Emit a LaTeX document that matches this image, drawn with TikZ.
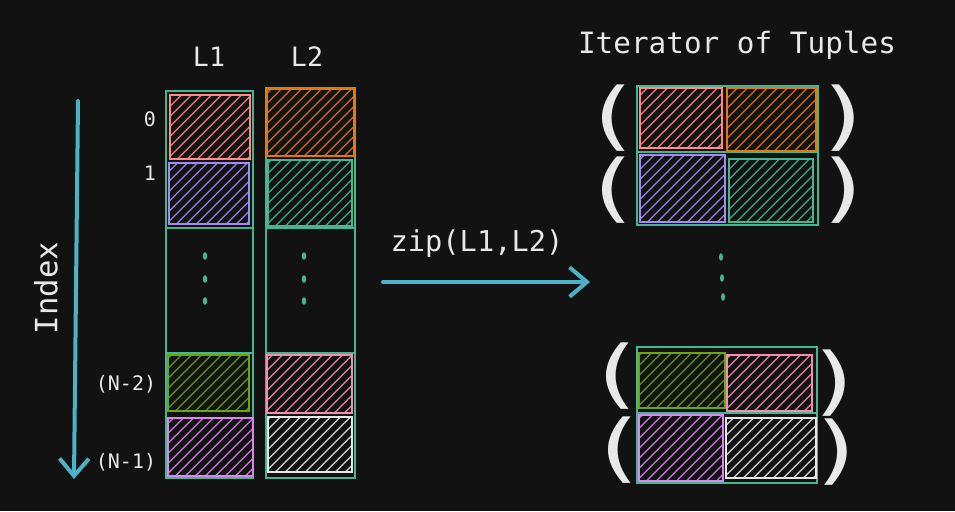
\documentclass[tikz,border=0pt]{standalone}
\usepackage{fontspec}
\setmainfont{DejaVu Sans Mono}
\usetikzlibrary{fit,arrows.meta,calc}
\definecolor{bg}{HTML}{121212}
\definecolor{tealc}{HTML}{45B78F}
\definecolor{txt}{HTML}{E8E8E8}
\definecolor{arrowc}{HTML}{4DB2C8}
\definecolor{salmon}{HTML}{FF8A8A}
\definecolor{lav}{HTML}{A48BF2}
\definecolor{orng}{HTML}{E07A10}
\definecolor{olive}{HTML}{6AA514}
\definecolor{pinkc}{HTML}{F58EB3}
\definecolor{viol}{HTML}{DC85F0}
\definecolor{whitec}{HTML}{E8E8E8}
\tikzset{
  cell/.style={draw=#1, line width=1.9pt, inner sep=0pt,
    path picture={
      \foreach \k in {0,...,19}{
        \draw[#1!85!black, line width=1pt]
          ($(path picture bounding box.south west)+(\k*7.5pt-62pt,0pt)$) -- ++(85pt,85pt);
      }
    }},
  frame/.style={draw=tealc, line width=1.9pt, inner sep=0pt},
  lbl/.style={text=txt, inner sep=0pt},
  paren/.style={text=txt, inner sep=0pt, font=\fontsize{56}{56}\selectfont, xscale=1.35},
  bigarrow/.style={draw=arrowc, line width=3pt, line cap=round,
    -{Straight Barb[length=13pt,width=22pt,line width=3pt]}},
  dot/.style={fill=tealc}
}
\begin{document}
\begin{tikzpicture}[x=0.75pt,y=-0.75pt]
\fill[bg] (0,0) rectangle (955,511);
\useasboundingbox (0,0) rectangle (955,511);

% ---------- left columns ----------
\node[frame, fit={(166,91)(253,478)}] (f1) {};
\node[frame, fit={(166,228)(253,353)}] (m1) {};
\node[frame, fit={(266,88)(355,478)}] (f2) {};
\node[frame, fit={(266,228)(355,353)}] (m2) {};

\node[cell=salmon, fit={(170,95)(250,159)}] (a0) {};
\node[cell=lav,    fit={(169,163)(249,224)}] (a1) {};
\node[cell=olive,  fit={(168,355)(249,411)}] (a2) {};
\node[cell=viol,   fit={(168,418)(253,476)}] (a3) {};

\node[cell=orng,   fit={(267,89)(354,156)}] (b0) {};
\node[cell=tealc,  fit={(268,160)(352,226)}] (b1) {};
\node[cell=pinkc,  fit={(267,355)(352,413)}] (b2) {};
\node[cell=whitec, fit={(268,417)(352,472)}] (b3) {};

\fill[dot] (205,256) ellipse [x radius=2.2, y radius=3.8];
\fill[dot] (205,279) ellipse [x radius=2.2, y radius=3.8];
\fill[dot] (205,301) ellipse [x radius=2.2, y radius=3.8];
\fill[dot] (304,256) ellipse [x radius=2.2, y radius=3.8];
\fill[dot] (304,279) ellipse [x radius=2.2, y radius=3.8];
\fill[dot] (304,301) ellipse [x radius=2.2, y radius=3.8];

\node[lbl, font=\fontsize{20}{20}\selectfont] (tL1) at (209,57) {L1};
\node[lbl, font=\fontsize{20}{20}\selectfont] (tL2) at (307,57) {L2};
\node[lbl, font=\fontsize{15}{15}\selectfont] (i0) at (150,119) {0};
\node[lbl, font=\fontsize{15}{15}\selectfont] (i1) at (150,173) {1};
\node[lbl, font=\fontsize{15}{15}\selectfont] (i2) at (126,384) {(N-2)};
\node[lbl, font=\fontsize{15}{15}\selectfont] (i3) at (126,462) {(N-1)};

% index arrow
\coordinate (ixs) at (78,101);
\coordinate (ixe) at (74,479);
\draw[bigarrow] (ixs) -- (ixe);
\node[lbl, rotate=90, font=\fontsize{23}{23}\selectfont] (idx) at (46,288) {Index};

% zip arrow
\coordinate (zs) at (383,282);
\coordinate (ze) at (590,282);
\draw[bigarrow] (zs) -- (ze);
\node[lbl, font=\fontsize{21.5}{21.5}\selectfont] (zip) at (477,244) {zip(L1,L2)};

% ---------- right tuples ----------
\node[lbl, font=\fontsize{22}{22}\selectfont] (title) at (737,45) {Iterator of Tuples};

\node[frame, fit={(637,86)(818,152)}] (r1) {};
\node[frame, fit={(637,152)(818,225)}] (r2) {};
\node[frame, fit={(637,347)(817,413)}] (r3) {};
\node[frame, fit={(637,413)(817,483)}] (r4) {};

\node[cell=salmon, fit={(640,88)(722,148)}] (c11) {};
\node[cell=orng,   fit={(727,88)(816,151)}] (c12) {};
\node[cell=lav,    fit={(640,155)(725,222)}] (c21) {};
\node[cell=tealc,  fit={(729,159)(813,222)}] (c22) {};
\node[cell=olive,  fit={(639,353)(725,408)}] (c31) {};
\node[cell=pinkc,  fit={(727,355)(812,411)}] (c32) {};
\node[cell=viol,   fit={(639,415)(723,481)}] (c41) {};
\node[cell=whitec, fit={(726,418)(816,478)}] (c42) {};

\fill[dot] (721,257) ellipse [x radius=2, y radius=3.8];
\fill[dot] (722,278) ellipse [x radius=2, y radius=3.8];
\fill[dot] (723,297) ellipse [x radius=2, y radius=3.8];

\node[paren] (p1l) at (612,118) {(};
\node[paren] (p1r) at (845,118) {)};
\node[paren] (p2l) at (612,190) {(};
\node[paren] (p2r) at (845,190) {)};
\node[paren] (p3l) at (616,376) {(};
\node[paren] (p3r) at (836,383) {)};
\node[paren] (p4l) at (618,450) {(};
\node[paren] (p4r) at (838,452) {)};
\end{tikzpicture}
\end{document}
